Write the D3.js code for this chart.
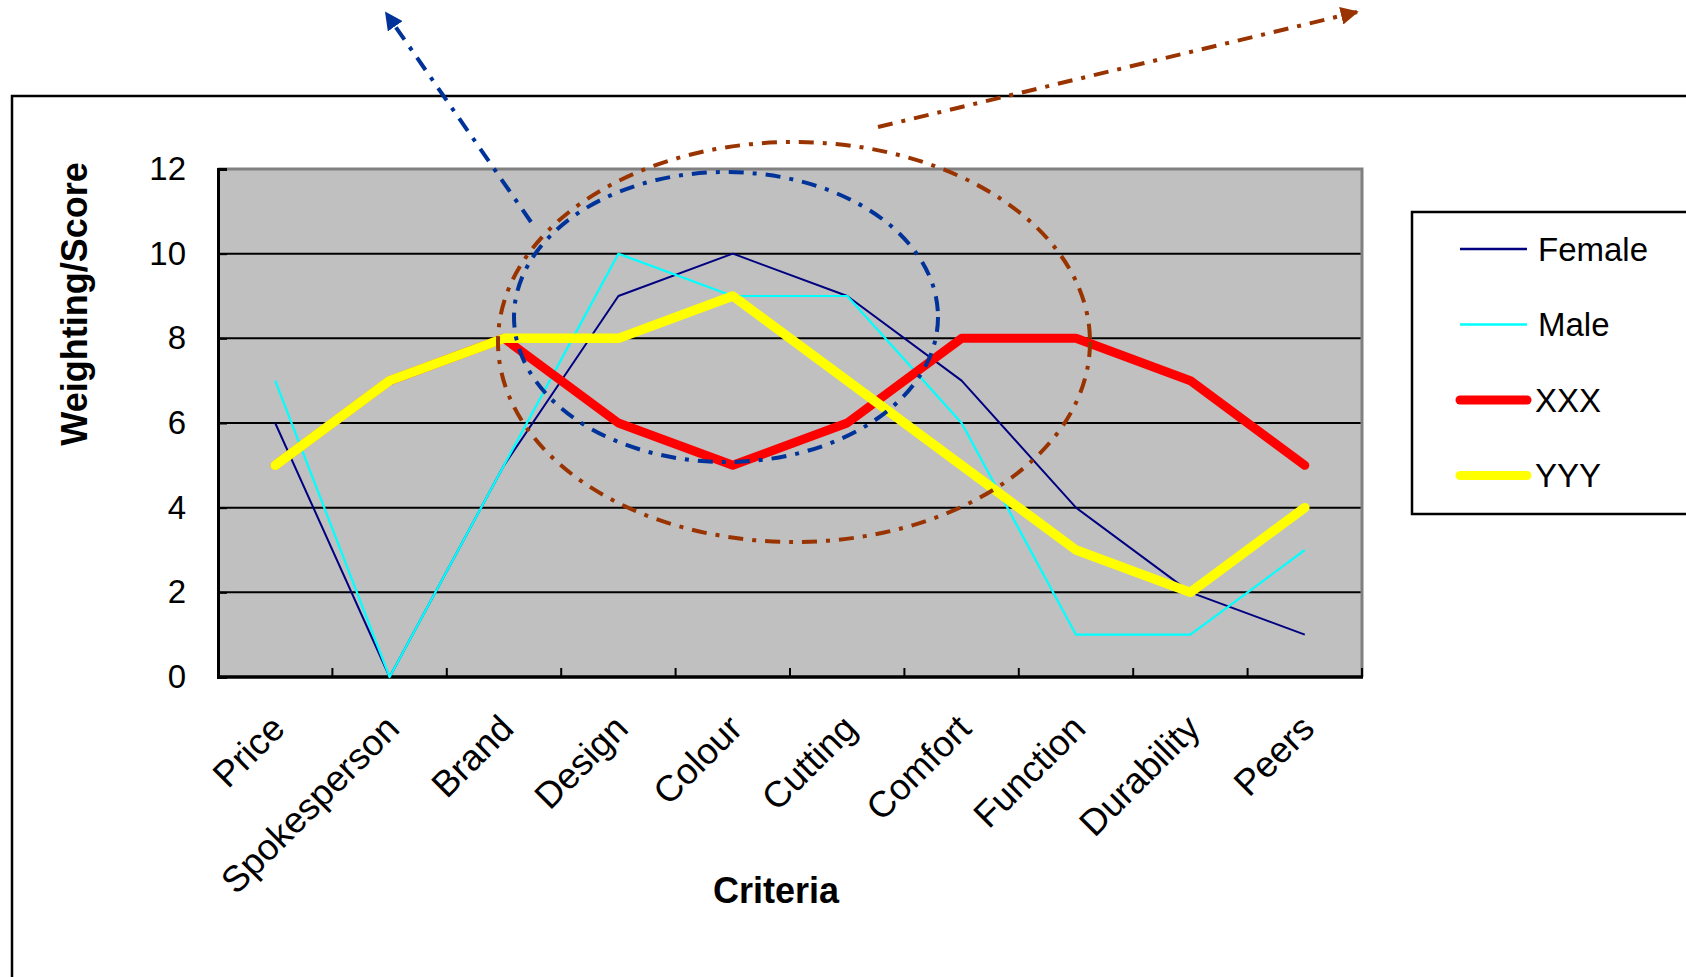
<!DOCTYPE html>
<html>
<head>
<meta charset="utf-8">
<script src="https://cdn.jsdelivr.net/npm/d3@7"></script>
<style>
  html, body { margin: 0; padding: 0; background: #fff; overflow: hidden; }
  svg { display: block; font-family: "Liberation Sans", Arial, Helvetica, sans-serif; }
</style>
</head>
<body>
<svg id="chart" width="1686" height="977"></svg>
<script>
// ---- data ----
const categories = ["Price", "Spokesperson", "Brand", "Design", "Colour", "Cutting", "Comfort", "Function", "Durability", "Peers"];
const female = [6, 0, 5, 9, 10, 9, 7, 4, 2, 1];
const male   = [7, 0, 5, 10, 9, 9, 6, 1, 1, 3];
const xxx    = [5, 7, 8, 6, 5, 6, 8, 8, 7, 5];
const yyy    = [5, 7, 8, 8, 9, 7, 5, 3, 2, 4];
const yTicks = [0, 2, 4, 6, 8, 10, 12];
const seriesNames = ["Female", "Male", "XXX", "YYY"];
const xTitle = "Criteria";
const yTitle = "Weighting/Score";

// ---- layout ----
const W = 1686, H = 977;
const plot = { left: 218, right: 1362, top: 169, bottom: 677 };
const svg = d3.select("#chart");

const x = d3.scaleBand().domain(categories).range([plot.left, plot.right]).padding(0);
const cx = c => x(c) + x.bandwidth() / 2;
const y = d3.scaleLinear().domain([0, 12]).range([plot.bottom, plot.top]);

// outer chart frame (extends past window)
svg.append("rect").attr("x", 12).attr("y", 96).attr("width", W + 20).attr("height", H + 20)
  .attr("fill", "#fff").attr("stroke", "#000").attr("stroke-width", 2.5);

// plot background
svg.append("rect").attr("x", plot.left).attr("y", plot.top)
  .attr("width", plot.right - plot.left).attr("height", plot.bottom - plot.top)
  .attr("fill", "#c0c0c0");

// gridlines
svg.append("g").selectAll("line").data(yTicks.filter(v => v > 0 && v < 12)).join("line")
  .attr("x1", plot.left).attr("x2", plot.right)
  .attr("y1", d => y(d)).attr("y2", d => y(d))
  .attr("stroke", "#000").attr("stroke-width", 2);

// plot border top/right in gray
svg.append("path")
  .attr("d", `M${plot.left},${y(12)}H${plot.right}V${plot.bottom}`)
  .attr("fill", "none").attr("stroke", "#808080").attr("stroke-width", 3);

// y axis
const yAxis = d3.axisLeft(y).tickValues(yTicks).tickSize(-9).tickPadding(32);
const yg = svg.append("g").attr("transform", `translate(${plot.left},0)`).call(yAxis);
yg.select(".domain").attr("stroke", "#000").attr("stroke-width", 3);
yg.selectAll(".tick line").attr("stroke", "#000").attr("stroke-width", 2);
yg.selectAll(".tick text").attr("font-size", 33).attr("fill", "#000")
  .attr("font-family", "'Liberation Sans', Arial, sans-serif");

// x axis line + ticks at category boundaries
const xBounds = categories.map(c => x(c)).concat([plot.right]);
svg.append("line").attr("x1", plot.left - 1).attr("x2", plot.right + 1)
  .attr("y1", plot.bottom).attr("y2", plot.bottom)
  .attr("stroke", "#000").attr("stroke-width", 3.5);
svg.append("g").selectAll("line").data(xBounds.slice(1)).join("line")
  .attr("x1", d => d).attr("x2", d => d)
  .attr("y1", plot.bottom).attr("y2", plot.bottom - 9)
  .attr("stroke", "#000").attr("stroke-width", 2);

// category labels rotated -45
svg.append("g").selectAll("text").data(categories).join("text")
  .attr("transform", c => `translate(${cx(c) - 7},${plot.bottom + 35}) rotate(-45)`)
  .attr("text-anchor", "end")
  .attr("dominant-baseline", "hanging")
  .attr("font-size", 36.5)
  .attr("fill", "#000")
  .text(c => c);

// titles
svg.append("text").attr("x", 776).attr("y", 903).attr("text-anchor", "middle")
  .attr("font-size", 36).attr("font-weight", "bold").text(xTitle);
svg.append("text").attr("transform", "translate(87,304) rotate(-90)")
  .attr("text-anchor", "middle").attr("font-size", 36).attr("font-weight", "bold").text(yTitle);

// series
const series = [
  { name: seriesNames[0], values: female, color: "#000080", width: 2 },
  { name: seriesNames[1], values: male,   color: "#00ffff", width: 2.2 },
  { name: seriesNames[2], values: xxx,    color: "#ff0000", width: 9 },
  { name: seriesNames[3], values: yyy,    color: "#ffff00", width: 9.5 }
];
const line = d3.line().x((d, i) => cx(categories[i])).y(d => y(d));
svg.append("g").selectAll("path").data(series).join("path")
  .attr("d", s => line(s.values))
  .attr("fill", "none")
  .attr("stroke", s => s.color)
  .attr("stroke-width", s => s.width)
  .attr("stroke-linejoin", "round")
  .attr("stroke-linecap", s => s.width > 5 ? "round" : "butt");

// annotations: dash-dot ellipses and arrows
const defs = svg.append("defs");
[["arrBlue", "#003399"], ["arrBrown", "#993300"]].forEach(([id, col]) => {
  defs.append("marker").attr("id", id).attr("viewBox", "0 0 10 10")
    .attr("refX", 9).attr("refY", 5).attr("markerWidth", 4.5).attr("markerHeight", 4.5)
    .attr("markerUnits", "strokeWidth").attr("orient", "auto")
    .append("path").attr("d", "M0,0L10,5L0,10Z").attr("fill", col);
});
const dash = "15 9 4 9";
const sw = 4;
svg.append("ellipse").attr("cx", 794).attr("cy", 342).attr("rx", 296).attr("ry", 200)
  .attr("fill", "none").attr("stroke", "#993300").attr("stroke-width", sw).attr("stroke-dasharray", dash);
svg.append("ellipse").attr("cx", 726).attr("cy", 317).attr("rx", 212).attr("ry", 145)
  .attr("fill", "none").attr("stroke", "#003399").attr("stroke-width", sw).attr("stroke-dasharray", dash);
svg.append("line").attr("x1", 531).attr("y1", 222).attr("x2", 386).attr("y2", 13)
  .attr("stroke", "#003399").attr("stroke-width", sw).attr("stroke-dasharray", dash)
  .attr("marker-end", "url(#arrBlue)");
svg.append("line").attr("x1", 878).attr("y1", 127).attr("x2", 1357).attr("y2", 12)
  .attr("stroke", "#993300").attr("stroke-width", sw).attr("stroke-dasharray", dash)
  .attr("marker-end", "url(#arrBrown)");

// legend (box extends past right edge)
svg.append("rect").attr("x", 1412).attr("y", 212).attr("width", 320).attr("height", 302)
  .attr("fill", "#fff").attr("stroke", "#000").attr("stroke-width", 2.5);
const lg = svg.append("g").selectAll("g").data(series).join("g")
  .attr("transform", (s, i) => `translate(0,${249 + i * 75.5})`);
lg.append("line")
  .attr("x1", 1460).attr("x2", 1527)
  .attr("y1", 0).attr("y2", 0)
  .attr("stroke", s => s.color).attr("stroke-width", s => s.width > 5 ? 9 : 2.5)
  .attr("stroke-linecap", s => s.width > 5 ? "round" : "butt");
lg.append("text").attr("x", s => s.width > 5 ? 1535 : 1538).attr("y", 0).attr("dy", "0.35em")
  .attr("font-size", 33).attr("fill", "#000").text(s => s.name);
</script>
</body>
</html>
